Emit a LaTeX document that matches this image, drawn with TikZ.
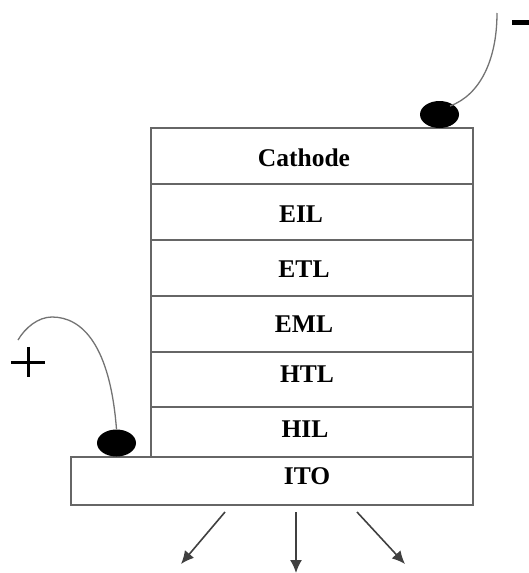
\documentclass[tikz,border=0pt]{standalone}
\usepackage{fontspec}
\setmainfont{Liberation Serif}
\usetikzlibrary{arrows.meta,shapes.geometric,calc}
\begin{document}
\begin{tikzpicture}[x=1pt,y=-1pt,
  layer/.style={draw=black!60, line width=1.6pt, minimum width=322pt, inner sep=0pt, outer sep=0pt},
  lbl/.style={anchor=base, inner sep=0pt, font=\bfseries\fontsize{25.5}{30}\selectfont},
  wire/.style={draw=black!55, line width=1.3pt},
  blob/.style={ellipse, fill=black, minimum width=39pt, minimum height=27pt, inner sep=0pt},
  emit/.style={draw=black!75, line width=1.6pt, -{Latex[length=13pt,width=12pt]}}]
\useasboundingbox (0,0) rectangle (528,573);
% layers
\node[layer, minimum height=56pt] (cathode) at (312,156) {};
\node[layer, minimum height=56pt] (eil) at (312,212) {};
\node[layer, minimum height=56pt] (etl) at (312,268) {};
\node[layer, minimum height=56pt] (eml) at (312,324) {};
\node[layer, minimum height=55pt] (htl) at (312,379.5) {};
\node[layer, minimum height=50pt] (hil) at (312,432) {};
\node[layer, minimum height=48pt, minimum width=402pt] (ito) at (272,481) {};
% labels
\node[lbl] (tcath) at (304,166) {Cathode};
\node[lbl] (teil) at (301,222) {EIL};
\node[lbl] (tetl) at (304,277) {ETL};
\node[lbl] (teml) at (304,332) {EML};
\node[lbl] (thtl) at (307,382) {HTL};
\node[lbl] (thil) at (305,437) {HIL};
\node[lbl] (tito) at (307,484) {ITO};
% contacts
\node[blob] (lblob) at (116.5,443) {};
\node[blob] (rblob) at (439.5,114.5) {};
\coordinate (lend) at (18,340);
\coordinate (rend) at (497,13);
\coordinate (rstart) at (450,106);
\draw[wire] (lblob.north) .. controls (110,345) and (82,317) .. (52,317) .. controls (38,317) and (25,328) .. (lend);
\draw[wire] (rstart) .. controls (480,95) and (497,60) .. (rend);
% signs
\node[fill=black, minimum width=18pt, minimum height=5pt, inner sep=0pt] (minus) at (521,22) {};
\node[inner sep=0pt, minimum size=34pt] (plus) at (28,362) {};
\draw[line width=3pt] (plus.west) -- (plus.east) ($(plus.north)+(0,2)$) -- ($(plus.south)+(0,-2)$);
% emission arrows
\coordinate (a1) at (225,512);
\coordinate (a2) at (296,512);
\coordinate (a3) at (357,512);
\coordinate (b1) at (181,564);
\coordinate (b2) at (296,573);
\coordinate (b3) at (405,564);
\draw[emit] (a1) -- (b1);
\draw[emit] (a2) -- (b2);
\draw[emit] (a3) -- (b3);
\end{tikzpicture}
\end{document}
